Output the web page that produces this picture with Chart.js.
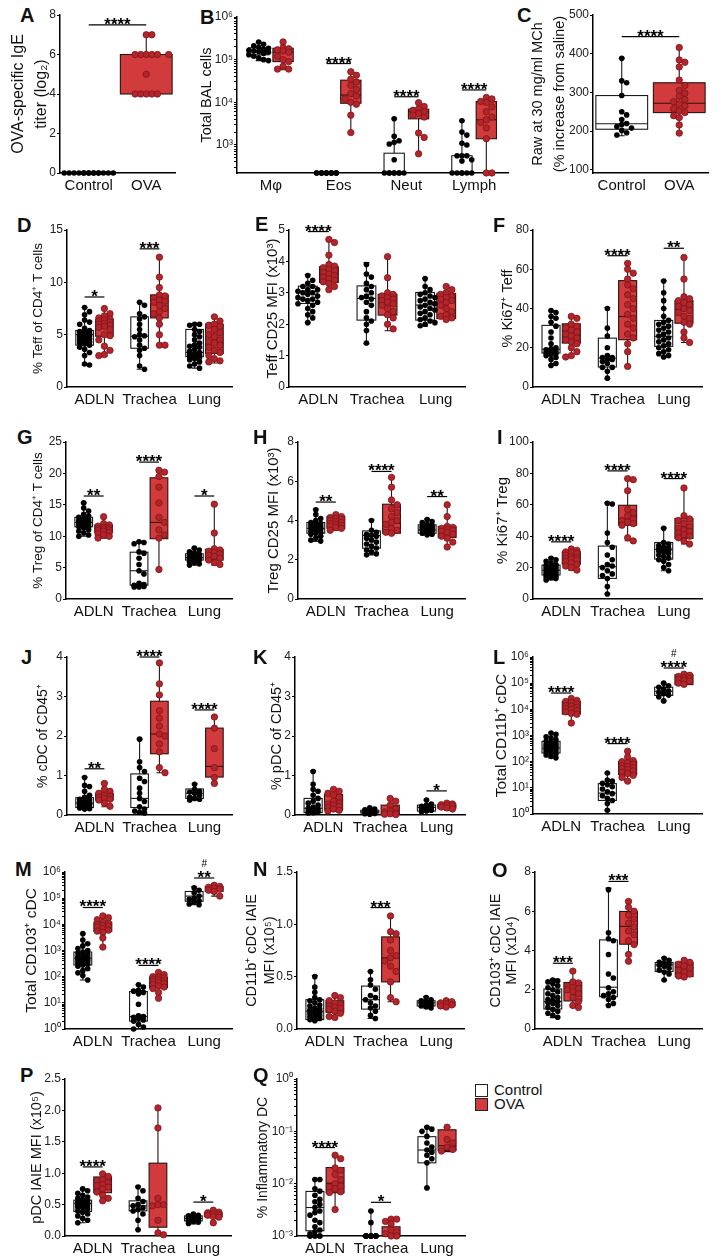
<!DOCTYPE html>
<html>
<head>
<meta charset="utf-8">
<script src="https://cdn.jsdelivr.net/npm/chart.js@4.4.1/dist/chart.umd.min.js"></script>
<style>
  body { margin: 0; width: 728px; height: 1260px; position: relative; background: #fff; overflow: hidden;
         font-family: "Liberation Sans", Arial, sans-serif; color: #111; }
  canvas { position: absolute; }
  .letter { position: absolute; font-weight: bold; font-size: 20px; line-height: 1; }
  .legend { position: absolute; left: 475px; top: 1083px; font-size: 15px; line-height: 14px; }
  .legend div { display: flex; align-items: center; height: 14px; }
  .sw { display: inline-block; width: 11px; height: 11px; border: 1px solid #222; margin-right: 6px; }
</style>
</head>
<body>
<div class="legend">
  <div><span class="sw" style="background:#fff"></span>Control</div>
  <div><span class="sw" style="background:#d23b3b"></span>OVA</div>
</div>
<script>
// categories
const acGroups = ['Control', 'OVA'];
const bGroups = ['Mφ', 'Eos', 'Neut', 'Lymph'];
const tissueGroups = ['ADLN', 'Trachea', 'Lung'];

// box stats per group: [min, q1, median, q3, max]

// A
const aCtrlBox = [[0, 0, 0, 0, 0], null];
const aOvaBox = [null, [4, 4, 6, 6, 7]];
const aCtrlPts = [[0, 0, 0, 0, 0, 0, 0, 0, 0, 0, 0, 0, 0, 0, 0], []];
const aOvaPts = [[], [7, 7, 6, 6, 6, 6, 6, 6, 5, 4, 4, 4, 4, 4]];
const aSig = [{ g: 0, y: 7.5, t: '****' }];
const aTicks = [0, 2, 4, 6, 8];

// B
const bCtrlBox = [[95000, 130000, 160000, 190000, 260000], [220, 220, 220, 220, 220], [220, 220, 220, 640, 4100], [220, 220, 220, 560, 3700]];
const bOvaBox = [[58000, 90000, 150000, 185000, 260000], [1950, 9500, 14800, 33000, 52000], [620, 4100, 6000, 6900, 9800], [220, 1400, 3900, 10400, 13000]];
const bCtrlPts = [
  [260000, 230000, 210000, 195000, 185000, 175000, 165000, 160000, 155000, 150000, 140000, 130000, 120000, 110000, 100000, 95000],
  [220, 220, 220, 220, 220, 220, 220, 220, 220, 220, 220, 220, 220, 220],
  [4100, 1600, 1250, 1150, 1050, 450, 220, 220, 220, 220, 220, 220, 220, 220],
  [3700, 2000, 1700, 1100, 1000, 560, 560, 560, 450, 420, 220, 220, 220, 220, 220, 220]
];
const bOvaPts = [
  [260000, 190000, 180000, 170000, 160000, 150000, 120000, 100000, 90000, 70000, 60000, 60000],
  [52000, 43000, 35000, 30000, 25000, 20000, 16000, 14000, 12000, 10000, 9000, 5000, 1950],
  [9800, 8000, 7000, 6500, 6000, 5500, 5000, 4500, 1900, 1500, 620],
  [13000, 12000, 10500, 10000, 7800, 6000, 4500, 3900, 3400, 2500, 1400, 220, 220]
];
const bSig = [{ g: 1, y: 81000, t: '****' }, { g: 2, y: 13500, t: '****' }, { g: 3, y: 19500, t: '****' }];
const bTicks = [1e3, 1e4, 1e5, 1e6];

// C
const cCtrlBox = [[188, 205, 219, 292, 388], null];
const cOvaBox = [null, [195, 248, 272, 325, 416]];
const cCtrlPts = [[388, 330, 325, 292, 250, 242, 230, 220, 217, 212, 208, 202, 196, 190], []];
const cOvaPts = [[], [416, 384, 378, 366, 332, 318, 305, 298, 290, 282, 276, 270, 265, 258, 252, 248, 240, 235, 216, 195]];
const cSig = [{ g: 0, y: 444, t: '****' }];
const cTicks = [100, 200, 300, 400, 500];

// D
const dCtrlBox = [[2.1, 4.0, 5.0, 5.4, 7.6], [1.7, 3.7, 4.85, 6.7, 8.1], [1.8, 2.9, 3.3, 5.5, 6.0]];
const dOvaBox = [[3.0, 4.85, 6.0, 6.45, 7.5], [4.0, 6.6, 8.2, 8.8, 12.4], [2.3, 3.2, 4.2, 6.0, 6.75]];
const dCtrlPts = [
  [7.6, 7.2, 6.9, 6.4, 6.2, 6.0, 5.6, 5.4, 5.3, 5.2, 5.1, 5.0, 5.0, 4.9, 4.8, 4.7, 4.6, 4.5, 4.4, 4.3, 4.2, 4.1, 4.0, 3.8, 3.6, 3.3, 3.0, 2.2, 2.1],
  [8.1, 7.8, 7.0, 6.7, 6.5, 6.0, 5.5, 5.0, 4.9, 4.8, 4.5, 4.0, 3.7, 3.5, 3.0, 2.0, 1.7],
  [6.0, 6.0, 5.9, 5.5, 5.3, 5.0, 4.8, 4.5, 4.2, 4.0, 3.9, 3.8, 3.6, 3.4, 3.3, 3.2, 3.1, 3.0, 3.0, 2.9, 2.8, 2.7, 2.6, 2.4, 2.2, 2.0, 1.8]
];
const dOvaPts = [
  [7.5, 7.0, 6.8, 6.6, 6.5, 6.4, 6.3, 6.2, 6.1, 6.0, 5.9, 5.8, 5.7, 5.5, 5.0, 4.9, 4.5, 3.9, 3.5, 3.1, 3.0],
  [12.4, 10.5, 9.5, 8.8, 8.7, 8.5, 8.3, 8.2, 8.1, 7.8, 7.5, 7.2, 7.0, 6.6, 6.0, 5.0, 4.0, 4.0],
  [6.7, 6.3, 6.0, 5.9, 5.8, 5.5, 5.2, 5.0, 4.8, 4.5, 4.3, 4.2, 4.0, 3.8, 3.5, 3.3, 3.0, 2.7, 2.5, 2.4]
];
const dSig = [{ g: 0, y: 8.6, t: '*' }, { g: 1, y: 13.2, t: '***' }];
const dTicks = [0, 5, 10, 15];

// E
const eCtrlBox = [[2.05, 2.66, 3.05, 3.21, 3.58], [1.38, 2.13, 2.82, 3.22, 3.96], [1.94, 2.13, 2.61, 3.01, 3.46]];
const eOvaBox = [[3.09, 3.33, 3.6, 3.83, 4.7], [1.79, 2.29, 2.82, 2.95, 4.15], [2.15, 2.18, 2.77, 2.98, 3.24]];
const eCtrlPts = [
  [3.55, 3.4, 3.3, 3.2, 3.2, 3.1, 3.1, 3.05, 3.0, 3.0, 2.95, 2.9, 2.85, 2.8, 2.8, 2.75, 2.7, 2.65, 2.6, 2.5, 2.4, 2.3, 2.2, 2.05],
  [3.9, 3.6, 3.5, 3.3, 3.2, 3.1, 3.0, 2.9, 2.85, 2.8, 2.7, 2.6, 2.4, 2.2, 2.1, 2.0, 1.8, 1.4],
  [3.45, 3.2, 3.1, 3.0, 2.95, 2.9, 2.85, 2.8, 2.75, 2.7, 2.65, 2.6, 2.55, 2.5, 2.45, 2.4, 2.35, 2.3, 2.2, 2.15, 2.1, 2.05, 2.0, 1.95]
];
const eOvaPts = [
  [4.7, 4.6, 4.2, 3.9, 3.85, 3.8, 3.75, 3.7, 3.65, 3.6, 3.55, 3.5, 3.45, 3.4, 3.35, 3.3, 3.2, 3.1],
  [4.15, 3.48, 3.0, 2.95, 2.9, 2.85, 2.8, 2.75, 2.7, 2.65, 2.6, 2.5, 2.4, 2.3, 2.2, 2.0, 1.85],
  [3.2, 3.1, 3.0, 2.95, 2.9, 2.85, 2.8, 2.75, 2.7, 2.6, 2.5, 2.4, 2.3, 2.25, 2.2, 2.15]
];
const eSig = [{ g: 0, y: 4.95, t: '****' }];
const eTicks = [0, 1, 2, 3, 4, 5];

// F
const fCtrlBox = [[11, 17.3, 19.3, 31.4, 38.8], [4.2, 10.2, 14.7, 24.9, 40.5], [15.3, 20.7, 25.8, 33.9, 54.1]];
const fOvaBox = [[15.3, 22.4, 26.1, 32.2, 36.4], [10.5, 24.1, 35.9, 54.2, 63.4], [22.7, 32.5, 39.8, 43.9, 66.1]];
const fCtrlPts = [
  [39, 38, 36, 35, 33, 31, 28, 25, 22, 20, 19.5, 19, 18.5, 18, 17.5, 17, 16.5, 16, 15, 14, 12, 11],
  [40, 30, 26, 20, 16, 15, 15, 14, 14, 13, 12, 10, 10, 8, 4.5],
  [54, 48, 44, 40, 36, 34, 33, 32, 31, 30, 29, 28, 27, 26, 25, 24, 23, 22, 21, 20, 19, 18, 17, 16, 15.3]
];
const fOvaPts = [
  [36, 35, 32, 31, 30, 29, 28, 27, 26, 25, 24, 23, 22, 20, 18, 16, 15.3],
  [63, 60, 58, 55, 52, 50, 47, 45, 42, 40, 37, 35, 32, 30, 27, 25, 22, 18, 10.5],
  [66, 55, 46, 45, 44, 43, 42, 41, 40, 39, 38, 36, 35, 33, 32, 28, 25, 22.7]
];
const fSig = [{ g: 1, y: 66.9, t: '****' }, { g: 2, y: 70.7, t: '**' }];
const fTicks = [0, 20, 40, 60, 80];

// G
const gCtrlBox = [[10, 11.5, 12.2, 13.0, 15.3], [1.9, 2.2, 4.5, 7.45, 9.15], [5.4, 6.2, 6.6, 7.2, 8.1]];
const gOvaBox = [[9.7, 10.6, 11.2, 11.8, 13.1], [4.7, 9.6, 12.2, 19.3, 20.6], [5.4, 6.2, 7.3, 7.9, 15.1]];
const gCtrlPts = [
  [15.3, 14.5, 14, 13.5, 13.2, 13, 12.8, 12.6, 12.5, 12.4, 12.3, 12.2, 12.1, 12, 11.9, 11.8, 11.6, 11.5, 11.3, 11, 10.8, 10.5, 10.2, 10],
  [9.1, 9.0, 8.8, 7.5, 7.3, 6.5, 5.5, 4.5, 4.0, 2.5, 2.3, 2.2, 2.1, 2.0, 1.9, 1.9],
  [8.1, 7.8, 7.5, 7.3, 7.1, 7.0, 6.9, 6.8, 6.7, 6.6, 6.5, 6.4, 6.3, 6.2, 6.0, 5.8, 5.6, 5.4]
];
const gOvaPts = [
  [13.1, 12, 11.8, 11.6, 11.4, 11.3, 11.2, 11.1, 11, 10.9, 10.8, 10.6, 10.4, 10.2, 10, 9.7],
  [20.5, 20.2, 19.5, 17.8, 15.3, 13.0, 12.2, 11.0, 10.2, 9.7, 4.7],
  [15.1, 10.5, 8.0, 7.8, 7.6, 7.4, 7.2, 7.0, 6.8, 6.5, 6.2, 5.8, 5.5]
];
const gSig = [{ g: 0, y: 16.4, t: '**' }, { g: 1, y: 21.8, t: '****' }, { g: 2, y: 16.4, t: '*' }];
const gTicks = [0, 5, 10, 15, 20, 25];

// H
const hCtrlBox = [[2.93, 3.35, 3.6, 3.9, 4.58], [2.25, 2.59, 3.23, 3.47, 4.03], [3.27, 3.35, 3.52, 3.78, 4.07]];
const hOvaBox = [[3.5, 3.6, 3.9, 4.2, 4.32], [3.32, 3.35, 3.86, 4.83, 6.21], [2.64, 3.13, 3.47, 3.69, 4.8]];
const hCtrlPts = [
  [4.55, 4.3, 4.1, 4.0, 3.9, 3.85, 3.8, 3.75, 3.7, 3.65, 3.6, 3.55, 3.5, 3.45, 3.4, 3.35, 3.3, 3.2, 3.1, 3.0, 2.95],
  [4.0, 3.5, 3.4, 3.3, 3.25, 3.2, 3.1, 3.0, 2.9, 2.8, 2.7, 2.6, 2.5, 2.4, 2.3, 2.25],
  [4.05, 3.95, 3.9, 3.8, 3.75, 3.7, 3.7, 3.65, 3.6, 3.6, 3.55, 3.5, 3.5, 3.45, 3.4, 3.35, 3.3, 3.27]
];
const hOvaPts = [
  [4.3, 4.2, 4.15, 4.1, 4.05, 4.0, 3.95, 3.9, 3.85, 3.8, 3.75, 3.7, 3.65, 3.6, 3.5],
  [6.2, 5.7, 5.05, 4.8, 4.6, 4.4, 4.2, 4.0, 3.9, 3.8, 3.6, 3.5, 3.4, 3.35],
  [4.8, 4.2, 3.7, 3.65, 3.6, 3.55, 3.5, 3.45, 3.4, 3.3, 3.2, 3.1, 2.9, 2.65]
];
const hSig = [{ g: 0, y: 4.94, t: '**' }, { g: 1, y: 6.5, t: '****' }, { g: 2, y: 5.22, t: '**' }];
const hTicks = [0, 2, 4, 6, 8];

// I
const iCtrlBox = [[12.1, 15.3, 18.4, 21.6, 26.3], [3.2, 13.1, 20.6, 33.7, 61.4], [18, 25.4, 31.6, 36, 45.3]];
const iOvaBox = [[18.4, 22.2, 25.8, 30.1, 31.8], [37.1, 47, 50.8, 59.7, 76.7], [35, 38.6, 44.3, 51.3, 70.8]];
const iCtrlPts = [
  [26, 25, 24, 23, 22, 21.5, 21, 20.5, 20, 19.5, 19, 18.5, 18, 17.5, 17, 16.5, 16, 15.5, 15, 14.5, 14, 13.5, 13, 12.1],
  [61, 60.5, 42, 36, 33, 28, 25, 22, 21, 20, 18, 16, 15, 13, 8, 3.2],
  [45, 36, 35, 34, 33, 32.5, 32, 31.5, 31, 30.5, 30, 29, 28, 27, 26, 25, 24, 22, 20, 18]
];
const iOvaPts = [
  [31.8, 31, 30, 29.5, 29, 28, 27, 26.5, 26, 25.5, 25, 24, 23, 22, 21, 20, 18.4],
  [76.7, 76, 69, 57, 55, 53, 51, 50, 49, 48, 47, 39, 37],
  [70.7, 53, 51, 50, 48, 46, 45, 44, 43, 42, 41, 40, 39, 37, 35]
];
const iSig = [{ g: 0, y: 36.4, t: '****' }, { g: 1, y: 81.6, t: '****' }, { g: 2, y: 76.7, t: '****' }];
const iTicks = [0, 20, 40, 60, 80, 100];

// J
const jCtrlBox = [[0.15, 0.19, 0.3, 0.44, 0.96], [0.04, 0.19, 0.42, 1.04, 1.92], [0.38, 0.42, 0.55, 0.66, 0.79]];
const jOvaBox = [[0.21, 0.38, 0.48, 0.55, 0.8], [1.07, 1.55, 2.05, 2.88, 3.85], [0.8, 0.96, 1.23, 2.2, 2.49]];
const jCtrlPts = [
  [0.95, 0.75, 0.72, 0.6, 0.5, 0.45, 0.4, 0.38, 0.35, 0.32, 0.3, 0.3, 0.28, 0.26, 0.25, 0.22, 0.2, 0.2, 0.18, 0.16, 0.15],
  [1.92, 1.35, 1.2, 1.1, 0.93, 0.85, 0.68, 0.55, 0.42, 0.34, 0.21, 0.15, 0.1, 0.07, 0.05],
  [0.78, 0.65, 0.6, 0.58, 0.55, 0.5, 0.45, 0.42, 0.4, 0.38]
];
const jOvaPts = [
  [0.8, 0.65, 0.6, 0.55, 0.5, 0.48, 0.45, 0.42, 0.4, 0.38, 0.3, 0.22],
  [3.85, 3.32, 3.04, 2.64, 2.45, 2.25, 2.05, 2.0, 1.8, 1.6, 1.2, 1.07],
  [2.48, 2.2, 1.68, 1.2, 0.95, 0.8]
];
const jSig = [{ g: 0, y: 1.17, t: '**' }, { g: 1, y: 4.0, t: '****' }, { g: 2, y: 2.66, t: '****' }];
const jTicks = [0, 1, 2, 3, 4];

// K
const kCtrlBox = [[0.04, 0.06, 0.17, 0.42, 1.12], [0.02, 0.05, 0.08, 0.12, 0.18], [0.08, 0.1, 0.19, 0.25, 0.38]];
const kOvaBox = [[0.1, 0.13, 0.25, 0.52, 0.66], [0.01, 0.02, 0.08, 0.25, 0.42], [0.13, 0.17, 0.22, 0.27, 0.3]];
const kCtrlPts = [
  [1.1, 0.78, 0.65, 0.6, 0.5, 0.42, 0.35, 0.3, 0.25, 0.2, 0.17, 0.15, 0.12, 0.1, 0.08, 0.06, 0.05],
  [0.18, 0.15, 0.13, 0.12, 0.1, 0.09, 0.08, 0.07, 0.06, 0.05, 0.04, 0.03, 0.02],
  [0.38, 0.28, 0.25, 0.22, 0.2, 0.18, 0.15, 0.12, 0.1, 0.08]
];
const kOvaPts = [
  [0.65, 0.6, 0.55, 0.5, 0.45, 0.35, 0.3, 0.28, 0.25, 0.22, 0.2, 0.15, 0.12, 0.1],
  [0.42, 0.35, 0.25, 0.15, 0.1, 0.08, 0.05, 0.03, 0.02, 0.01],
  [0.3, 0.28, 0.26, 0.24, 0.22, 0.2, 0.18, 0.15]
];
const kSig = [{ g: 2, y: 0.61, t: '*' }];
const kTicks = [0, 1, 2, 3, 4];

// L
const lCtrlBox = [[138, 215, 330, 600, 1250], [1.4, 3.3, 6.3, 14.5, 37], [21000, 34000, 49000, 70000, 100000]];
const lOvaBox = [[3000, 6600, 13000, 20000, 26000], [18, 32, 60, 103, 250], [88000, 88000, 145000, 210000, 220000]];
const lCtrlPts = [
  [1250, 1100, 900, 800, 700, 600, 550, 500, 450, 420, 400, 380, 350, 330, 300, 280, 260, 240, 220, 200, 180, 160, 140],
  [37, 20, 18, 15, 13, 11, 9, 7, 6, 5, 4, 3.3, 2.5, 1.4],
  [100000, 80000, 70000, 60000, 50000, 45000, 40000, 35000, 30000, 21000]
];
const lOvaPts = [
  [26000, 22000, 20000, 18000, 16000, 14000, 13000, 12000, 11000, 10000, 9000, 8000, 7000, 6500, 3000],
  [250, 150, 110, 100, 90, 80, 70, 65, 60, 55, 50, 45, 40, 35, 30, 25, 18],
  [220000, 200000, 180000, 160000, 150000, 140000, 130000, 120000, 100000, 90000]
];
const lSig = [{ g: 0, y: 42000, t: '****' }, { g: 1, y: 490, t: '****' }, { g: 2, y: 380000, t: '****', m: '#' }];
const lTicks = [1, 10, 100, 1e3, 1e4, 1e5, 1e6];

// M
const mCtrlBox = [[75, 280, 510, 870, 4400], [1, 2, 3, 27, 49], [56000, 76000, 120000, 180000, 270000]];
const mOvaBox = [[1350, 5400, 9000, 12000, 21000], [15, 38, 65, 95, 145], [120000, 180000, 240000, 280000, 310000]];
const mCtrlPts = [
  [4400, 2500, 1800, 1500, 1200, 1000, 870, 800, 700, 650, 600, 550, 500, 480, 450, 420, 400, 380, 350, 320, 300, 280, 250, 200, 170, 140, 110, 75],
  [49, 40, 30, 28, 25, 22, 8.8, 3.2, 3, 2.8, 2.5, 2.2, 2, 1.5, 1.2, 1],
  [250000, 200000, 160000, 120000, 100000, 90000, 80000, 70000, 60000, 56000]
];
const mOvaPts = [
  [21000, 18000, 15000, 12000, 11000, 10000, 9000, 8500, 8000, 7000, 6000, 5500, 5000, 3000, 1350],
  [145, 120, 100, 95, 90, 80, 75, 70, 65, 60, 55, 50, 45, 40, 35, 25, 15],
  [310000, 280000, 260000, 240000, 220000, 200000, 180000, 120000]
];
const mSig = [{ g: 0, y: 44000, t: '****' }, { g: 1, y: 270, t: '****' }, { g: 2, y: 590000, t: '**', m: '#' }];
const mTicks = [1, 10, 100, 1e3, 1e4, 1e5, 1e6];

// N
const nCtrlBox = [[0.08, 0.09, 0.17, 0.28, 0.51], [0.1, 0.19, 0.28, 0.41, 0.55], [0.2, 0.22, 0.25, 0.27, 0.31]];
const nOvaBox = [[0.11, 0.16, 0.21, 0.27, 0.33], [0.26, 0.45, 0.68, 0.88, 1.09], [0.21, 0.22, 0.24, 0.26, 0.27]];
const nCtrlPts = [
  [0.5, 0.4, 0.35, 0.3, 0.28, 0.27, 0.25, 0.23, 0.22, 0.2, 0.19, 0.18, 0.17, 0.16, 0.15, 0.14, 0.13, 0.12, 0.11, 0.1, 0.09, 0.08],
  [0.55, 0.47, 0.42, 0.38, 0.32, 0.3, 0.28, 0.25, 0.22, 0.2, 0.17, 0.13, 0.1],
  [0.3, 0.28, 0.27, 0.26, 0.25, 0.25, 0.24, 0.23, 0.22, 0.21, 0.2]
];
const nOvaPts = [
  [0.32, 0.3, 0.27, 0.25, 0.23, 0.22, 0.21, 0.2, 0.19, 0.17, 0.15, 0.12, 0.11],
  [1.08, 0.93, 0.91, 0.85, 0.75, 0.7, 0.68, 0.65, 0.6, 0.55, 0.45, 0.3, 0.26],
  [0.27, 0.26, 0.25, 0.24, 0.23, 0.22, 0.21]
];
const nSig = [{ g: 1, y: 1.16, t: '***' }];
const nTicks = [0, 0.5, 1.0, 1.5];

// O
const oCtrlBox = [[0.58, 1.02, 1.4, 2.04, 2.55], [1.23, 1.65, 2.13, 4.54, 7.18], [2.47, 2.93, 3.27, 3.39, 3.64]];
const oOvaBox = [[1.1, 1.43, 2.04, 2.37, 2.96], [3.44, 4.32, 5.23, 5.99, 6.54], [2.62, 2.67, 3.1, 3.4, 3.52]];
const oCtrlPts = [
  [2.5, 2.45, 2.4, 2.3, 2.2, 2.1, 2.0, 1.9, 1.8, 1.7, 1.6, 1.5, 1.45, 1.4, 1.35, 1.3, 1.2, 1.1, 1.0, 0.9, 0.8, 0.7, 0.6],
  [7.1, 4.9, 4.6, 4.5, 3.8, 2.8, 2.6, 2.1, 1.9, 1.8, 1.7, 1.6, 1.5, 1.3, 1.2],
  [3.6, 3.5, 3.4, 3.35, 3.3, 3.25, 3.2, 3.1, 3.0, 2.9, 2.8, 2.5]
];
const oOvaPts = [
  [2.95, 2.4, 2.35, 2.2, 2.1, 2.05, 2.0, 1.9, 1.8, 1.6, 1.4, 1.2, 1.1],
  [6.5, 6.2, 6.0, 5.8, 5.6, 5.4, 5.2, 5.0, 4.8, 4.5, 4.3, 3.8, 3.45],
  [3.5, 3.4, 3.3, 3.2, 3.1, 3.0, 2.9, 2.8, 2.7, 2.65]
];
const oSig = [{ g: 0, y: 3.35, t: '***' }, { g: 1, y: 7.52, t: '***' }];
const oTicks = [0, 2, 4, 6, 8];

// P
const pCtrlBox = [[0.21, 0.39, 0.52, 0.57, 0.75], [0.1, 0.4, 0.48, 0.56, 0.79], [0.19, 0.24, 0.28, 0.32, 0.35]];
const pOvaBox = [[0.56, 0.69, 0.82, 0.94, 1.0], [0.02, 0.14, 0.49, 1.16, 2.05], [0.2, 0.31, 0.35, 0.37, 0.41]];
const pCtrlPts = [
  [0.75, 0.72, 0.68, 0.65, 0.62, 0.6, 0.58, 0.56, 0.55, 0.53, 0.52, 0.5, 0.49, 0.48, 0.46, 0.45, 0.43, 0.4, 0.38, 0.35, 0.32, 0.28, 0.25, 0.21],
  [0.78, 0.72, 0.6, 0.55, 0.5, 0.48, 0.45, 0.42, 0.4, 0.35, 0.25, 0.1],
  [0.35, 0.33, 0.32, 0.31, 0.3, 0.29, 0.28, 0.28, 0.27, 0.26, 0.25, 0.24, 0.23, 0.22, 0.2]
];
const pOvaPts = [
  [0.99, 0.95, 0.9, 0.88, 0.85, 0.82, 0.8, 0.78, 0.75, 0.7, 0.65, 0.6, 0.56],
  [2.04, 1.72, 0.6, 0.5, 0.5, 0.48, 0.25, 0.05, 0.02],
  [0.41, 0.38, 0.37, 0.35, 0.34, 0.33, 0.31, 0.3, 0.21]
];
const pSig = [{ g: 0, y: 1.1, t: '****' }, { g: 2, y: 0.54, t: '*' }];
const pTicks = [0, 0.5, 1.0, 1.5, 2.0, 2.5];

// Q
const qCtrlBox = [[0.001, 0.00126, 0.0035, 0.0071, 0.012], [0.001, 0.001, 0.001, 0.001, 0.003], [0.0083, 0.025, 0.044, 0.079, 0.123]];
const qOvaBox = [[0.0032, 0.0067, 0.0102, 0.0203, 0.035], [0.001, 0.001, 0.0011, 0.0015, 0.0021], [0.041, 0.043, 0.053, 0.107, 0.123]];
const qCtrlPts = [
  [0.012, 0.012, 0.008, 0.0072, 0.006, 0.005, 0.0045, 0.004, 0.0035, 0.003, 0.0028, 0.0025, 0.002, 0.0018, 0.0015, 0.0013, 0.0012, 0.0011, 0.001, 0.001, 0.001, 0.001, 0.001, 0.001],
  [0.003, 0.0018, 0.001, 0.001, 0.001, 0.001, 0.001, 0.001, 0.001, 0.001, 0.001, 0.001, 0.001, 0.001],
  [0.12, 0.11, 0.1, 0.08, 0.06, 0.05, 0.044, 0.04, 0.035, 0.03, 0.025, 0.0083]
];
const qOvaPts = [
  [0.035, 0.03, 0.02, 0.018, 0.015, 0.012, 0.01, 0.009, 0.0085, 0.008, 0.007, 0.0068, 0.0032],
  [0.0021, 0.0021, 0.0019, 0.0017, 0.0013, 0.0012, 0.0011, 0.001, 0.001],
  [0.12, 0.07, 0.06, 0.05, 0.045, 0.042]
];
const qSig = [{ g: 0, y: 0.049, t: '****' }, { g: 1, y: 0.0044, t: '*' }];
const qTicks = [0.001, 0.01, 0.1, 1];

const panels = [
  { id: 'A', groups: acGroups, ctrl: aCtrlBox, ova: aOvaBox, ctrlPts: aCtrlPts, ovaPts: aOvaPts, sig: aSig, ticks: aTicks, min: 0, max: 8, title: ['OVA-specific IgE', 'titer (log₂)'] },
  { id: 'B', groups: bGroups, ctrl: bCtrlBox, ova: bOvaBox, ctrlPts: bCtrlPts, ovaPts: bOvaPts, sig: bSig, ticks: bTicks, min: 220, max: 1e6, log: true, title: ['Total BAL cells'] },
  { id: 'C', groups: acGroups, ctrl: cCtrlBox, ova: cOvaBox, ctrlPts: cCtrlPts, ovaPts: cOvaPts, sig: cSig, ticks: cTicks, min: 92, max: 500, title: ['Raw at 30 mg/ml MCh', '(% increase from saline)'] },
  { id: 'D', groups: tissueGroups, ctrl: dCtrlBox, ova: dOvaBox, ctrlPts: dCtrlPts, ovaPts: dOvaPts, sig: dSig, ticks: dTicks, min: 0, max: 15, title: ['% Teff of CD4⁺ T cells'] },
  { id: 'E', groups: tissueGroups, ctrl: eCtrlBox, ova: eOvaBox, ctrlPts: eCtrlPts, ovaPts: eOvaPts, sig: eSig, ticks: eTicks, min: 0, max: 5, title: ['Teff CD25 MFI (x10³)'] },
  { id: 'F', groups: tissueGroups, ctrl: fCtrlBox, ova: fOvaBox, ctrlPts: fCtrlPts, ovaPts: fOvaPts, sig: fSig, ticks: fTicks, min: 0, max: 80, title: ['% Ki67⁺ Teff'] },
  { id: 'G', groups: tissueGroups, ctrl: gCtrlBox, ova: gOvaBox, ctrlPts: gCtrlPts, ovaPts: gOvaPts, sig: gSig, ticks: gTicks, min: 0, max: 25, title: ['% Treg of CD4⁺ T cells'] },
  { id: 'H', groups: tissueGroups, ctrl: hCtrlBox, ova: hOvaBox, ctrlPts: hCtrlPts, ovaPts: hOvaPts, sig: hSig, ticks: hTicks, min: 0, max: 8, title: ['Treg CD25 MFI (x10³)'] },
  { id: 'I', groups: tissueGroups, ctrl: iCtrlBox, ova: iOvaBox, ctrlPts: iCtrlPts, ovaPts: iOvaPts, sig: iSig, ticks: iTicks, min: 0, max: 100, title: ['% Ki67⁺ Treg'] },
  { id: 'J', groups: tissueGroups, ctrl: jCtrlBox, ova: jOvaBox, ctrlPts: jCtrlPts, ovaPts: jOvaPts, sig: jSig, ticks: jTicks, min: 0, max: 4, title: ['% cDC of CD45⁺'] },
  { id: 'K', groups: tissueGroups, ctrl: kCtrlBox, ova: kOvaBox, ctrlPts: kCtrlPts, ovaPts: kOvaPts, sig: kSig, ticks: kTicks, min: 0, max: 4, title: ['% pDC of CD45⁺'] },
  { id: 'L', groups: tissueGroups, ctrl: lCtrlBox, ova: lOvaBox, ctrlPts: lCtrlPts, ovaPts: lOvaPts, sig: lSig, ticks: lTicks, min: 1, max: 1e6, log: true, title: ['Total CD11b⁺ cDC'] },
  { id: 'M', groups: tissueGroups, ctrl: mCtrlBox, ova: mOvaBox, ctrlPts: mCtrlPts, ovaPts: mOvaPts, sig: mSig, ticks: mTicks, min: 1, max: 1e6, log: true, title: ['Total CD103⁺ cDC'] },
  { id: 'N', groups: tissueGroups, ctrl: nCtrlBox, ova: nOvaBox, ctrlPts: nCtrlPts, ovaPts: nOvaPts, sig: nSig, ticks: nTicks, min: 0, max: 1.5, dec: 1, title: ['CD11b⁺ cDC IAIE', 'MFI (x10⁵)'] },
  { id: 'O', groups: tissueGroups, ctrl: oCtrlBox, ova: oOvaBox, ctrlPts: oCtrlPts, ovaPts: oOvaPts, sig: oSig, ticks: oTicks, min: 0, max: 8, title: ['CD103⁺ cDC IAIE', 'MFI (x10⁴)'] },
  { id: 'P', groups: tissueGroups, ctrl: pCtrlBox, ova: pOvaBox, ctrlPts: pCtrlPts, ovaPts: pOvaPts, sig: pSig, ticks: pTicks, min: 0, max: 2.5, dec: 1, title: ['pDC IAIE MFI (x10⁵)'] },
  { id: 'Q', groups: tissueGroups, ctrl: qCtrlBox, ova: qOvaBox, ctrlPts: qCtrlPts, ovaPts: qOvaPts, sig: qSig, ticks: qTicks, min: 0.001, max: 1, log: true, title: ['% Inflammatory DC'] }
];

// page geometry: canvas span, axis pixels, title placement, panel letter
const geom = {
  A: { left: 0, right: 185, axisX: 60, axisEnd: 175, top: 15, bottom: 173, tx: 19, ts: 16, gap: 23, letter: [20, 5] },
  B: { left: 185, right: 512, axisX: 237, axisEnd: 508, top: 17, bottom: 173, tx: 207, ts: 14.5, letter: [200, 7] },
  C: { left: 512, right: 728, axisX: 593, axisEnd: 708, top: 15, bottom: 173, tx: 538, ts: 14.5, gap: 22, letter: [517, 5] },
  D: { left: 0, right: 240, axisX: 67, axisEnd: 232, top: 230, bottom: 387, tx: 38, ts: 13.5, letter: [17, 215] },
  E: { left: 240, right: 475, axisX: 289, axisEnd: 465, top: 230, bottom: 387, tx: 273, ts: 15, letter: [255, 214] },
  F: { left: 475, right: 728, axisX: 533, axisEnd: 702, top: 230, bottom: 387, tx: 508, ts: 14.5, letter: [493, 215] },
  G: { left: 0, right: 240, axisX: 66, axisEnd: 232, top: 442, bottom: 599, tx: 38, ts: 13.5, letter: [17, 427] },
  H: { left: 240, right: 475, axisX: 298, axisEnd: 465, top: 442, bottom: 599, tx: 274, ts: 15, letter: [253, 427] },
  I: { left: 475, right: 728, axisX: 533, axisEnd: 702, top: 442, bottom: 599, tx: 503, ts: 15, letter: [497, 427] },
  J: { left: 0, right: 240, axisX: 67, axisEnd: 232, top: 657, bottom: 815, tx: 43, ts: 14, letter: [21, 647] },
  K: { left: 240, right: 475, axisX: 295, axisEnd: 465, top: 657, bottom: 815, tx: 277, ts: 14.5, letter: [253, 647] },
  L: { left: 475, right: 728, axisX: 533, axisEnd: 702, top: 657, bottom: 814, tx: 502, ts: 15.5, letter: [493, 647] },
  M: { left: 0, right: 240, axisX: 65, axisEnd: 232, top: 872, bottom: 1029, tx: 32, ts: 15.5, letter: [15, 859] },
  N: { left: 240, right: 475, axisX: 297, axisEnd: 464, top: 872, bottom: 1029, tx: 252, ts: 14.5, gap: 18, letter: [253, 859] },
  O: { left: 475, right: 728, axisX: 535, axisEnd: 702, top: 872, bottom: 1029, tx: 496, ts: 14.5, gap: 16, letter: [492, 860] },
  P: { left: 0, right: 240, axisX: 65, axisEnd: 231, top: 1079, bottom: 1236, tx: 37, ts: 14.5, letter: [20, 1065] },
  Q: { left: 240, right: 475, axisX: 297, axisEnd: 465, top: 1079, bottom: 1236, tx: 263, ts: 14, letter: [253, 1065] }
};

const FONT = '"Liberation Sans", Arial, sans-serif';
const CTRL = { box: '#ffffff', line: '#1a1a1a', dot: '#000000', dotLine: '#000000', r: 2.8 };
const OVA = { box: '#d23b3b', line: '#2a1212', dot: '#b3252b', dotLine: '#7e1519', r: 3.2 };
const SUP = { '0': '⁰', '1': '¹', '2': '²', '3': '³', '4': '⁴', '5': '⁵', '6': '⁶', '7': '⁷', '8': '⁸', '9': '⁹', '-': '⁻' };

Chart.defaults.font.family = FONT;
Chart.defaults.color = '#1a1a1a';

function powerLabel(v) {
  const e = Math.round(Math.log10(v));
  return '10' + String(e).split('').map(c => SUP[c]).join('');
}

function logTicks(min, max) {
  const out = [];
  for (let e = Math.floor(Math.log10(min)); e <= Math.ceil(Math.log10(max)); e++) {
    for (let k = 1; k < 10; k++) {
      const v = k * Math.pow(10, e);
      if (v >= min * 0.999 && v <= max * 1.001) out.push(v);
    }
  }
  return out;
}

// boxes, whiskers and significance bars, placed through the chart scales
function boxPlugin(p, shift, width) {
  return {
    id: 'box' + p.id,
    beforeDatasetsDraw(chart) {
      const { ctx } = chart;
      const xs = chart.scales.x, ys = chart.scales.y;
      const half = (xs.getPixelForValue(width) - xs.getPixelForValue(0)) / 2;
      [[p.ctrl, -shift, CTRL], [p.ova, shift, OVA]].forEach(([boxes, dx, st]) => {
        boxes.forEach((b, g) => {
          if (!b) return;
          const cx = xs.getPixelForValue(g + dx);
          const [lo, q1, md, q3, hi] = b.map(v => ys.getPixelForValue(v));
          ctx.save();
          ctx.strokeStyle = st.line;
          ctx.lineWidth = 1.1;
          ctx.beginPath();
          ctx.moveTo(cx, lo); ctx.lineTo(cx, hi);
          ctx.moveTo(cx - 3, lo); ctx.lineTo(cx + 3, lo);
          ctx.moveTo(cx - 3, hi); ctx.lineTo(cx + 3, hi);
          ctx.stroke();
          ctx.fillStyle = st.box;
          ctx.fillRect(cx - half, q3, half * 2, q1 - q3);
          ctx.strokeRect(cx - half, q3, half * 2, q1 - q3);
          ctx.beginPath();
          ctx.moveTo(cx - half, md); ctx.lineTo(cx + half, md);
          ctx.stroke();
          ctx.restore();
        });
      });
    },
    afterDatasetsDraw(chart) {
      const { ctx } = chart;
      const xs = chart.scales.x, ys = chart.scales.y;
      p.sig.forEach(s => {
        const x0 = xs.getPixelForValue(shift ? s.g - shift : s.g);
        const x1 = xs.getPixelForValue(shift ? s.g + shift : s.g + 1);
        const y = ys.getPixelForValue(s.y);
        ctx.save();
        ctx.strokeStyle = '#000';
        ctx.lineWidth = 1.2;
        ctx.beginPath();
        ctx.moveTo(x0, y); ctx.lineTo(x1, y);
        ctx.stroke();
        ctx.fillStyle = '#000';
        ctx.textAlign = 'center';
        ctx.textBaseline = 'alphabetic';
        ctx.font = 'bold 17px ' + FONT;
        ctx.fillText(s.t, (x0 + x1) / 2, y + 5);
        if (s.m) {
          ctx.font = '10px ' + FONT;
          ctx.fillText(s.m, (x0 + x1) / 2, y - 11);
        }
        ctx.restore();
      });
    }
  };
}

function pointsFor(lists, dx) {
  const out = [];
  lists.forEach((vals, g) => vals.forEach(v => out.push({ x: g + dx, y: v, c: g + dx })));
  return out;
}

// spread overlapping dots sideways inside their box (simple beeswarm)
function spread(chart, maxOff) {
  const xs = chart.scales.x, ys = chart.scales.y;
  chart.data.datasets.forEach(ds => {
    const step = ds.pointRadius * 1.75;
    const byGroup = {};
    ds.data.forEach(pt => (byGroup[pt.c] = byGroup[pt.c] || []).push(pt));
    Object.values(byGroup).forEach(list => {
      const placed = [];
      list.slice().sort((a, b) => b.y - a.y).forEach(pt => {
        const py = ys.getPixelForValue(pt.y);
        let best = 0, bestScore = Infinity;
        for (let k = 0; k < 24; k++) {
          const off = (k % 2 ? 1 : -1) * Math.ceil(k / 2) * step;
          if (Math.abs(off) > maxOff) continue;
          let overlap = 0;
          placed.forEach(q => {
            const d = Math.hypot(q.ox - off, q.py - py);
            if (d < step) overlap += step - d;
          });
          if (overlap === 0) { best = off; bestScore = 0; break; }
          if (overlap < bestScore) { bestScore = overlap; best = off; }
        }
        placed.push({ ox: best, py });
        pt.x = xs.getValueForPixel(xs.getPixelForValue(pt.c) + best);
      });
    });
  });
  chart.update('none');
}

panels.forEach(p => {
  const g = geom[p.id];
  const single = p.groups.length === 2;
  const shift = single ? 0 : 0.18;
  const width = single ? 0.9 : (p.groups.length === 4 ? 0.3 : 0.32);
  const cTop = g.top - 34, cBottom = g.bottom + 30;

  const letter = document.createElement('div');
  letter.className = 'letter';
  letter.textContent = p.id;
  letter.style.left = g.letter[0] + 'px';
  letter.style.top = g.letter[1] + 'px';
  document.body.appendChild(letter);

  const canvas = document.createElement('canvas');
  canvas.width = g.right - g.left;
  canvas.height = cBottom - cTop;
  canvas.style.left = g.left + 'px';
  canvas.style.top = cTop + 'px';
  document.body.appendChild(canvas);

  const lh = g.gap ? g.gap / g.ts : 1.2;
  const titlePad = g.tx - g.left - (g.ts * lh) / 2;

  const chart = new Chart(canvas, {
    type: 'scatter',
    data: {
      datasets: [
        { data: pointsFor(p.ctrlPts, -shift), pointRadius: CTRL.r, pointBackgroundColor: CTRL.dot, pointBorderColor: CTRL.dotLine, pointBorderWidth: 0, pointHoverRadius: CTRL.r, clip: false },
        { data: pointsFor(p.ovaPts, shift), pointRadius: OVA.r, pointBackgroundColor: OVA.dot, pointBorderColor: OVA.dotLine, pointBorderWidth: 0.8, pointHoverRadius: OVA.r, clip: false }
      ]
    },
    options: {
      responsive: false,
      animation: false,
      events: [],
      layout: { padding: { top: g.top - cTop, right: g.right - g.axisEnd, left: 0, bottom: 0 } },
      plugins: { legend: { display: false }, tooltip: { enabled: false } },
      scales: {
        x: {
          type: 'linear',
          min: -0.5,
          max: p.groups.length - 0.5,
          afterBuildTicks: s => { s.ticks = p.groups.map((_, i) => ({ value: i })); },
          afterFit: s => { s.height = cBottom - g.bottom; },
          grid: { display: false, drawTicks: false },
          border: { color: '#000', width: 1.5 },
          ticks: { callback: v => p.groups[v], font: { size: 15 }, color: '#111', padding: 4, maxRotation: 0, autoSkip: false }
        },
        y: {
          type: p.log ? 'logarithmic' : 'linear',
          min: p.min,
          max: p.max,
          afterBuildTicks: s => {
            s.ticks = (p.log ? logTicks(p.min, p.max) : p.ticks).map(v => ({ value: v }));
          },
          afterFit: s => { s.width = g.axisX - g.left; },
          grid: { drawOnChartArea: false, drawTicks: true, tickLength: 3, color: '#000', tickWidth: 1 },
          border: { color: '#000', width: 1.5 },
          ticks: {
            autoSkip: false,
            padding: 1,
            font: { size: 12 },
            color: '#222',
            callback: v => {
              if (p.log) return p.ticks.some(t => Math.abs(t - v) / t < 1e-6) ? powerLabel(v) : '';
              return p.dec ? v.toFixed(p.dec) : String(v);
            }
          },
          title: {
            display: true,
            text: p.title,
            color: '#111',
            font: { size: g.ts, lineHeight: lh },
            padding: { top: titlePad, bottom: 0 }
          }
        }
      }
    },
    plugins: [boxPlugin(p, shift, width)]
  });

  const half = (chart.scales.x.getPixelForValue(width) - chart.scales.x.getPixelForValue(0)) / 2;
  spread(chart, single ? half - 1 : half + 0.5);
});
</script>
</body>
</html>
